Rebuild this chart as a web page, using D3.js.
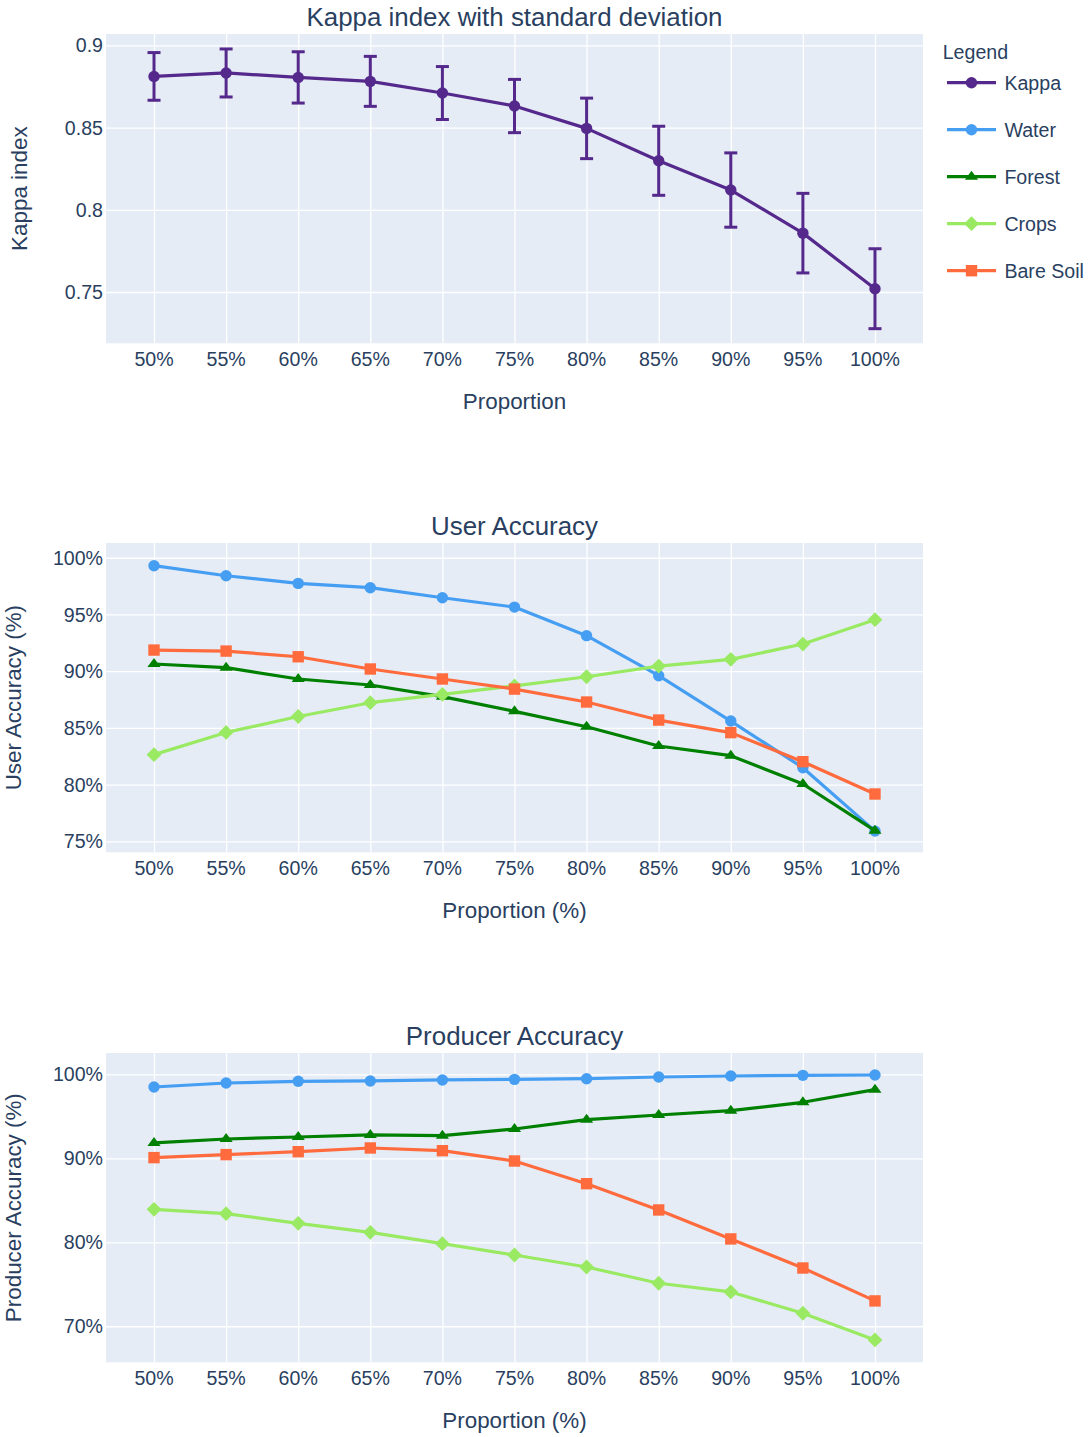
<!DOCTYPE html>
<html>
<head>
<meta charset="utf-8">
<script src="https://cdn.jsdelivr.net/npm/d3@7"></script>
<style>
  html, body { margin: 0; padding: 0; background: #fff; }
  svg text { font-family: "Liberation Sans", Arial, sans-serif; fill: #2a3f5f; }
</style>
</head>
<body>
<svg id="chart" width="1089" height="1437"></svg>
<script>
// Sample proportion used for training (%)
const proportions = [50, 55, 60, 65, 70, 75, 80, 85, 90, 95, 100];

// Kappa index: mean and standard deviation per proportion
const kappaMean = [0.8811, 0.8832, 0.8805, 0.8781, 0.8710, 0.8631, 0.8495, 0.8298, 0.8120, 0.7858, 0.7520];
const kappaSd   = [0.0145, 0.0146, 0.0156, 0.0152, 0.0161, 0.0162, 0.0184, 0.0210, 0.0226, 0.0242, 0.0243];

// User accuracy per class (%)
const userWater    = [99.30, 98.41, 97.74, 97.36, 96.47, 95.65, 93.13, 89.60, 85.60, 81.49, 75.90];
const userForest   = [90.63, 90.31, 89.31, 88.78, 87.75, 86.46, 85.10, 83.40, 82.55, 80.05, 75.94];
const userCrops    = [82.64, 84.60, 86.00, 87.22, 87.95, 88.70, 89.51, 90.45, 91.04, 92.39, 94.54];
const userBareSoil = [91.86, 91.77, 91.27, 90.19, 89.31, 88.42, 87.28, 85.69, 84.58, 82.02, 79.17];

// Producer accuracy per class (%)
const prodWater    = [98.49, 98.97, 99.17, 99.21, 99.33, 99.40, 99.48, 99.68, 99.80, 99.88, 99.92];
const prodForest   = [91.83, 92.30, 92.54, 92.78, 92.70, 93.49, 94.60, 95.16, 95.67, 96.67, 98.17];
const prodCrops    = [83.93, 83.41, 82.26, 81.19, 79.84, 78.49, 77.06, 75.12, 74.09, 71.55, 68.37];
const prodBareSoil = [90.08, 90.44, 90.79, 91.23, 90.91, 89.68, 86.98, 83.85, 80.40, 76.94, 73.02];

// Axis ticks
const xTickLabels = proportions.map(p => p + "%");
const kappaTicks = [0.75, 0.8, 0.85, 0.9];
const kappaTickLabels = ["0.75", "0.8", "0.85", "0.9"];
const userTicks = [75, 80, 85, 90, 95, 100];
const userTickLabels = ["75%", "80%", "85%", "90%", "95%", "100%"];
const prodTicks = [70, 80, 90, 100];
const prodTickLabels = ["70%", "80%", "90%", "100%"];

// Legend entries
const legendNames = ["Kappa", "Water", "Forest", "Crops", "Bare Soil"];

const colors = {
  Kappa: "#55288c",
  Water: "#469ef3",
  Forest: "#008000",
  Crops: "#99ea62",
  "Bare Soil": "#ff6b3d"
};
const symbols = {
  Kappa: "circle",
  Water: "circle",
  Forest: "triangle",
  Crops: "diamond",
  "Bare Soil": "square"
};

const svg = d3.select("#chart");
const plotLeft = 106, plotRight = 923;
const bgColor = "#e5ecf6";

// Marker path generator (centred at 0,0)
function markerPath(sym, size) {
  const r = size / 2;
  if (sym === "circle") {
    return `M${r},0A${r},${r} 0 1,1 0,${-r}A${r},${r} 0 0,1 ${r},0Z`;
  }
  if (sym === "square") {
    return `M${r},${r}H${-r}V${-r}H${r}Z`;
  }
  if (sym === "diamond") {
    const d = r * 1.3;
    return `M${d},0L0,${d}L${-d},0L0,${-d}Z`;
  }
  if (sym === "triangle") {
    const rt = r * 2 / Math.sqrt(3) * 0.95, rs = r / 2;
    return `M${-rt},${rs}H${rt}L0,${-r}Z`;
  }
  return "";
}

function drawPanel(cfg) {
  const g = svg.append("g");
  const x = d3.scaleLinear().domain([46.67, 103.33]).range([plotLeft, plotRight]);
  const y = d3.scaleLinear().domain(cfg.yDomain).range([cfg.bottom, cfg.top]);

  // Background
  g.append("rect")
    .attr("x", plotLeft).attr("y", cfg.top)
    .attr("width", plotRight - plotLeft).attr("height", cfg.bottom - cfg.top)
    .attr("fill", bgColor);

  // Grid via axes
  g.append("g")
    .attr("transform", `translate(0,${cfg.bottom})`)
    .call(d3.axisBottom(x).tickValues(proportions).tickSize(-(cfg.bottom - cfg.top)).tickFormat(""))
    .call(a => a.select(".domain").remove())
    .call(a => a.selectAll("line").attr("stroke", "#ffffff").attr("stroke-width", 1.3));

  g.append("g")
    .attr("transform", `translate(${plotLeft},0)`)
    .call(d3.axisLeft(y).tickValues(cfg.yTicks).tickSize(-(plotRight - plotLeft)).tickFormat(""))
    .call(a => a.select(".domain").remove())
    .call(a => a.selectAll("line").attr("stroke", "#ffffff").attr("stroke-width", 1.3));

  // Tick labels
  g.selectAll(".xlab").data(proportions).enter().append("text")
    .attr("x", d => x(d)).attr("y", cfg.bottom + 22.4)
    .attr("text-anchor", "middle")
    .style("font-size", "19.6px")
    .text((d, i) => xTickLabels[i]);

  g.selectAll(".ylab").data(cfg.yTicks).enter().append("text")
    .attr("x", 103).attr("y", d => y(d)).attr("dy", "0.36em")
    .attr("text-anchor", "end")
    .style("font-size", "19.6px")
    .text((d, i) => cfg.yTickLabels[i]);

  // Titles
  g.append("text")
    .attr("x", (plotLeft + plotRight) / 2).attr("y", cfg.top - 8)
    .attr("text-anchor", "middle")
    .style("font-size", "25.9px")
    .text(cfg.title);

  g.append("text")
    .attr("x", (plotLeft + plotRight) / 2).attr("y", cfg.bottom + 66)
    .attr("text-anchor", "middle")
    .style("font-size", "22.4px")
    .text(cfg.xTitle);

  g.append("text")
    .attr("transform", `translate(${cfg.yTitleX},${(cfg.top + cfg.bottom) / 2}) rotate(-90)`)
    .attr("text-anchor", "middle")
    .style("font-size", "22.4px")
    .text(cfg.yTitle);

  // Series
  const line = d3.line().x((d, i) => x(proportions[i])).y(d => y(d));
  cfg.series.forEach(s => {
    const col = colors[s.name];
    const sg = g.append("g");
    if (s.sd) {
      const eb = sg.append("g");
      s.values.forEach((v, i) => {
        const cx = x(proportions[i]);
        const y1 = y(v + s.sd[i]), y2 = y(v - s.sd[i]);
        eb.append("line").attr("x1", cx).attr("x2", cx).attr("y1", y1).attr("y2", y2)
          .attr("stroke", col).attr("stroke-width", 3);
        [y1, y2].forEach(yy => eb.append("line")
          .attr("x1", cx - 6.5).attr("x2", cx + 6.5).attr("y1", yy).attr("y2", yy)
          .attr("stroke", col).attr("stroke-width", 3));
      });
    }
    sg.append("path").datum(s.values)
      .attr("d", line).attr("fill", "none")
      .attr("stroke", col).attr("stroke-width", 3.2)
      .attr("stroke-linejoin", "round");
    sg.selectAll(".m").data(s.values).enter().append("path")
      .attr("transform", (d, i) => `translate(${x(proportions[i])},${y(d)})`)
      .attr("d", markerPath(symbols[s.name], symbols[s.name] === "triangle" ? 12 : 11.4))
      .attr("fill", col);
  });
}

drawPanel({
  top: 34, bottom: 343.3,
  yDomain: [0.7188, 0.9069],
  yTicks: kappaTicks, yTickLabels: kappaTickLabels,
  title: "Kappa index with standard deviation",
  xTitle: "Proportion", yTitle: "Kappa index", yTitleX: 27,
  series: [{ name: "Kappa", values: kappaMean, sd: kappaSd }]
});

drawPanel({
  top: 543, bottom: 852.3,
  yDomain: [74.03, 101.3],
  yTicks: userTicks, yTickLabels: userTickLabels,
  title: "User Accuracy",
  xTitle: "Proportion (%)", yTitle: "User Accuracy (%)", yTitleX: 21,
  series: [
    { name: "Water", values: userWater },
    { name: "Forest", values: userForest },
    { name: "Crops", values: userCrops },
    { name: "Bare Soil", values: userBareSoil }
  ]
});

drawPanel({
  top: 1053, bottom: 1362.3,
  yDomain: [65.71, 102.54],
  yTicks: prodTicks, yTickLabels: prodTickLabels,
  title: "Producer Accuracy",
  xTitle: "Proportion (%)", yTitle: "Producer Accuracy (%)", yTitleX: 21,
  series: [
    { name: "Water", values: prodWater },
    { name: "Forest", values: prodForest },
    { name: "Crops", values: prodCrops },
    { name: "Bare Soil", values: prodBareSoil }
  ]
});

// Legend
const legend = svg.append("g");
legend.append("text")
  .attr("x", 942.7).attr("y", 59.3)
  .style("font-size", "19.6px")
  .text("Legend");
legendNames.forEach((name, i) => {
  const cy = 82.7 + 47 * i;
  legend.append("line")
    .attr("x1", 947).attr("x2", 996).attr("y1", cy).attr("y2", cy)
    .attr("stroke", colors[name]).attr("stroke-width", 3.2);
  legend.append("path")
    .attr("transform", `translate(971.5,${cy})`)
    .attr("d", markerPath(symbols[name], symbols[name] === "triangle" ? 12 : 11.4))
    .attr("fill", colors[name]);
  legend.append("text")
    .attr("x", 1004.4).attr("y", cy).attr("dy", "0.36em")
    .style("font-size", "19.6px")
    .text(name);
});
</script>
</body>
</html>
